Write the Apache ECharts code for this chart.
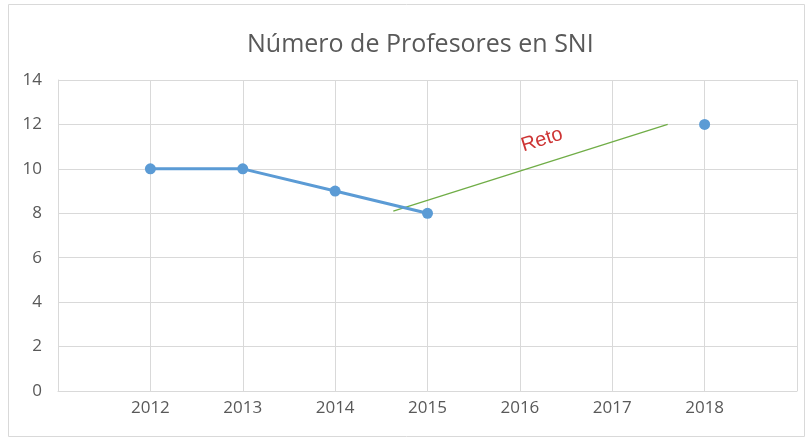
<!DOCTYPE html>
<html>
<head>
<meta charset="utf-8">
<script src="https://cdn.jsdelivr.net/npm/echarts@6/dist/echarts.min.js"></script>
<style>
  html, body { margin: 0; padding: 0; background: #fff; }
  #chart { width: 809px; height: 441px; }
</style>
</head>
<body>
<div id="chart"></div>
<script>
// datos
var years = [2012, 2013, 2014, 2015];
var profesores = [10, 10, 9, 8];
var metaYear = [2018];
var metaValue = [12];
// linea "Reto" (inicio y fin)
var retoX = [2014.63, 2017.6];
var retoY = [8.1, 12.0];
var retoLabelPos = [2016.24, 11.3];

var myChart = echarts.init(document.getElementById("chart"));
var gray = "#595959";
var grid = "#d9d9d9";
myChart.setOption({
  animation: false,
  textStyle: { fontFamily: "Open Sans" },
  title: {
    text: "Número de Profesores en SNI",
    left: 242,
    top: 27,
    textStyle: { fontSize: 25, fontWeight: "normal", color: gray, fontFamily: "Open Sans" }
  },
  graphic: [
    {
      type: "rect",
      shape: { x: 8.5, y: 4.5, width: 796, height: 432 },
      style: { fill: "none", stroke: grid, lineWidth: 1 },
      silent: true
    }
  ],
  grid: { left: 58, right: 12, top: 80, bottom: 50 },
  xAxis: {
    type: "value",
    min: 2011,
    max: 2019,
    interval: 1,
    axisLine: { show: true, lineStyle: { color: grid } },
    axisTick: { show: false },
    splitLine: { show: true, lineStyle: { color: grid } },
    axisLabel: {
      color: gray,
      fontSize: 17,
      margin: 9,
      showMinLabel: false,
      showMaxLabel: false,
      formatter: function (v) { return String(v); }
    }
  },
  yAxis: {
    type: "value",
    min: 0,
    max: 14,
    interval: 2,
    axisLine: { show: true, lineStyle: { color: grid } },
    axisTick: { show: false },
    splitLine: { show: true, lineStyle: { color: grid } },
    axisLabel: { color: gray, fontSize: 17, margin: 16 }
  },
  series: [
    {
      name: "Profesores",
      type: "line",
      data: years.map(function (y, i) { return [y, profesores[i]]; }),
      symbol: "circle",
      symbolSize: 11,
      lineStyle: { color: "#5B9BD5", width: 3 },
      itemStyle: { color: "#5B9BD5" },
      z: 3
    },
    {
      name: "Meta",
      type: "scatter",
      data: metaYear.map(function (y, i) { return [y, metaValue[i]]; }),
      symbol: "circle",
      symbolSize: 11,
      itemStyle: { color: "#5B9BD5", opacity: 1 },
      z: 3
    },
    {
      name: "Reto",
      type: "line",
      data: retoX.map(function (x, i) { return [x, retoY[i]]; }),
      symbol: "none",
      lineStyle: { color: "#70AD47", width: 1.3 },
      z: 2
    },
    {
      name: "RetoLabel",
      type: "scatter",
      data: [retoLabelPos],
      symbolSize: 0,
      label: {
        show: true,
        position: "inside",
        formatter: "Reto",
        rotate: 17.5,
        color: "#C00000",
        fontSize: 20,
        fontFamily: "Liberation Sans"
      },
      z: 4
    }
  ]
});
</script>
</body>
</html>
